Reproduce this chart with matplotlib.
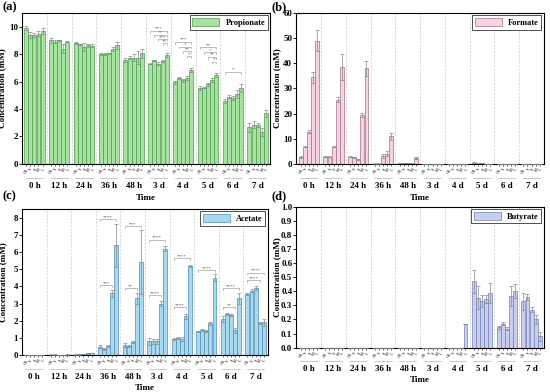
import numpy as np
import matplotlib
matplotlib.use('Agg')
import matplotlib.pyplot as plt
from matplotlib.transforms import blended_transform_factory

plt.rcParams['font.family'] = ['Liberation Serif', 'DejaVu Serif']
plt.rcParams['font.weight'] = 'bold'
plt.rcParams['axes.labelweight'] = 'bold'

# Données
groups = ['0 h', '12 h', '24 h', '36 h', '48 h', '3 d', '4 d', '5 d', '6 d', '7 d']
treatments = ['CK', 'Y', 'S', 'M', 'L']

propionate = [
    [9.9, 9.4, 9.4, 9.5, 9.7], [9.0, 8.9, 9.0, 8.4, 8.9], [8.8, 8.7, 8.5, 8.65, 8.6],
    [8.0, 8.0, 8.05, 8.35, 8.65], [7.55, 7.75, 7.75, 7.75, 8.05], [7.3, 7.55, 7.3, 7.5, 7.95],
    [5.95, 6.25, 6.1, 6.25, 6.85], [5.5, 5.55, 5.8, 6.1, 6.45], [4.55, 4.9, 4.8, 5.1, 5.55],
    [2.65, 2.85, 2.8, 2.3, 3.7]]
propionate_err = [
    [0.15, 0.2, 0.15, 0.15, 0.2], [0.2, 0.1, 0.05, 0.3, 0.05], [0.1, 0.05, 0.3, 0.1, 0.1],
    [0.05, 0.05, 0.05, 0.15, 0.25], [0.15, 0.1, 0.25, 0.5, 0.3], [0.05, 0.05, 0.1, 0.1, 0.15],
    [0.1, 0.1, 0.1, 0.15, 0.15], [0.15, 0.05, 0.1, 0.15, 0.15], [0.15, 0.1, 0.15, 0.3, 0.3],
    [0.35, 0.25, 0.15, 0.3, 0.25]]

formate = [
    [2.8, 6.9, 12.8, 34.4, 49.0], [2.9, 2.9, 6.9, 25.5, 38.5], [2.9, 2.7, 1.9, 19.4, 38.0],
    [0.1, 0.1, 3.2, 4.0, 10.9], [0.4, 0.4, 0.4, 0.4, 2.3], [0.05, 0.05, 0.05, 0.05, 0.1],
    [0.1, 0.05, 0.05, 0.05, 0.05], [0.5, 0.2, 0.2, 0.05, 0.05], [0.05, 0.05, 0.05, 0.05, 0.05],
    [0.1, 0.05, 0.1, 0.1, 0.1]]
formate_err = [
    [0.3, 0.3, 0.5, 2.2, 4.2], [0.2, 0.3, 0.3, 1.0, 5.2], [0.2, 0.2, 0.2, 0.8, 3.0],
    [0.05, 0.05, 0.8, 1.0, 1.3], [0.1, 0.1, 0.1, 0.1, 0.5], [0.02] * 5,
    [0.02] * 5, [0.1, 0.05, 0.05, 0.02, 0.02], [0.02] * 5, [0.02] * 5]

acetate = [
    [0.02, 0.02, 0.02, 0.02, 0.02], [0.03, 0.03, 0.02, 0.02, 0.03], [0.03, 0.04, 0.06, 0.1, 0.12],
    [0.5, 0.35, 0.55, 3.6, 6.4], [0.6, 0.55, 0.75, 3.3, 5.4], [0.8, 0.8, 0.8, 3.0, 6.2],
    [0.95, 1.0, 0.95, 2.25, 5.2], [1.38, 1.48, 1.42, 1.85, 4.5], [2.1, 2.4, 2.35, 1.45, 3.3],
    [3.55, 3.75, 3.9, 1.85, 1.9]]
acetate_err = [
    [0.01] * 5, [0.01] * 5, [0.01] * 5,
    [0.1, 0.05, 0.05, 0.2, 1.25], [0.1, 0.05, 0.05, 0.3, 1.85], [0.2, 0.15, 0.15, 0.15, 0.15],
    [0.05, 0.05, 0.1, 0.15, 0.05], [0.05, 0.05, 0.05, 0.1, 0.2], [0.2, 0.05, 0.05, 0.15, 0.3],
    [0.05, 0.1, 0.1, 0.05, 0.2]]

butyrate = [
    [0] * 5, [0] * 5, [0] * 5, [0] * 5, [0] * 5, [0] * 5,
    [0, 0, 0, 0, 0.17], [0.47, 0.355, 0.33, 0.345, 0.385], [0.145, 0.17, 0.135, 0.365, 0.40],
    [0.33, 0.36, 0.27, 0.20, 0.08]]
butyrate_err = [
    [0] * 5, [0] * 5, [0] * 5, [0] * 5, [0] * 5, [0] * 5,
    [0] * 5, [0.08, 0.08, 0.04, 0.03, 0.07], [0.01, 0.01, 0.01, 0.07, 0.05],
    [0.06, 0.02, 0.02, 0.03, 0.03]]

# Crochets de significativité : (groupe, barre1, barre2, y, texte)
sig_a = [(5, 0, 4, 9.7, '***'), (5, 1, 4, 9.4, '**'), (5, 2, 4, 9.1, '***'), (5, 3, 4, 8.8, '**'),
         (6, 0, 4, 8.9, '***'), (6, 1, 4, 8.55, '*'), (6, 2, 4, 8.2, '**'), (6, 3, 4, 7.85, '*'),
         (7, 0, 4, 8.5, '**'), (7, 1, 4, 8.15, '*'), (7, 2, 4, 7.8, '**'), (7, 3, 4, 7.45, '*'),
         (8, 0, 4, 6.7, '*')]
sig_c = [(3, 0, 4, 7.9, '****'), (3, 0, 3, 4.05, '***'),
         (4, 0, 4, 7.5, '***'), (4, 0, 3, 3.9, '**'),
         (5, 0, 4, 6.7, '****'), (5, 0, 3, 3.5, '****'),
         (6, 0, 4, 5.65, '****'), (6, 0, 3, 2.8, '****'),
         (7, 0, 4, 4.95, '****'),
         (8, 0, 4, 3.9, '****'), (8, 0, 3, 2.8, '**'),
         (9, 0, 4, 4.8, '****'), (9, 0, 3, 4.35, '****')]

step = 0.165
w = 0.16


def draw_panel(ax, vals, errs, face, edge, label, ylim, yticks, yfmt, sig=None):
    vals = np.array(vals)
    errs = np.array(errs)
    xs = []
    for i in range(len(groups)):
        x = i + (np.arange(5) - 2) * step
        ax.bar(x, vals[i], width=w, color=face, edgecolor=edge, linewidth=0.5,
               label=label if i == 0 else None, zorder=2)
        ax.errorbar(x, vals[i], yerr=errs[i], fmt='none', ecolor='#8a8a8a',
                    elinewidth=0.5, capsize=1.2, capthick=0.5, zorder=3)
        xs.extend(x)
    for i in range(len(groups) - 1):
        ax.axvline(i + 0.5, color='#c8c8c8', lw=0.5, ls=(0, (3, 2)), zorder=1)
    ax.set_xlim(-0.5, len(groups) - 0.5)
    ax.set_ylim(*ylim)
    ax.set_yticks(yticks)
    ax.set_yticklabels([yfmt.format(t) for t in yticks], fontsize=6.5)
    ax.set_xticks(xs)
    ax.set_xticklabels(treatments * len(groups), fontsize=3, rotation=60,
                       ha='right', rotation_mode='anchor', fontweight='normal')
    ax.tick_params(axis='x', length=1.5, width=0.4, pad=1)
    ax.tick_params(axis='y', length=2, width=0.6, pad=1)
    for s in ax.spines.values():
        s.set_linewidth(0.8)
    tr = blended_transform_factory(ax.transData, ax.transAxes)
    for i, g in enumerate(groups):
        ax.plot([i - 0.35, i + 0.35], [-0.095, -0.095], color='#b0b0b0', lw=0.5,
                transform=tr, clip_on=False)
        ax.text(i, -0.12, g, transform=tr, ha='center', va='top', fontsize=6.5)
    ax.text(0.5, -0.2, 'Time', transform=ax.transAxes, ha='center', va='top', fontsize=6.5)
    ax.set_ylabel('Concentration (mM)', fontsize=6.5)
    ax.yaxis.set_label_coords(-0.062, 0.5)
    leg = ax.legend(loc='upper right', fontsize=6, frameon=True, fancybox=False,
                    edgecolor='black', handlelength=3.2, handleheight=1.2,
                    borderpad=0.3, borderaxespad=0.3)
    leg.get_frame().set_linewidth(0.6)
    if sig:
        h = (ylim[1] - ylim[0]) * 0.012
        for g, b1, b2, y, t in sig:
            x1 = g + (b1 - 2) * step
            x2 = g + (b2 - 2) * step
            ax.plot([x1, x1, x2, x2], [y - h, y, y, y - h], color='#8a8a8a', lw=0.4, zorder=4)
            ax.text((x1 + x2) / 2, y, t, ha='center', va='bottom', fontsize=3.5,
                    fontweight='normal', color='#555555')


fig = plt.figure(figsize=(5.5, 3.92), dpi=100)
ax_a = fig.add_axes([0.040, 0.582, 0.451, 0.385])
ax_b = fig.add_axes([0.539, 0.582, 0.450, 0.385])
ax_c = fig.add_axes([0.040, 0.094, 0.447, 0.373])
ax_d = fig.add_axes([0.539, 0.113, 0.450, 0.360])

draw_panel(ax_a, propionate, propionate_err, '#a6e3a0', '#4f9a4f', 'Propionate',
           (0, 11), [0, 2, 4, 6, 8, 10], '{:g}', sig_a)
draw_panel(ax_b, formate, formate_err, '#f5d3e3', '#a0708a', 'Formate',
           (0, 60), [0, 10, 20, 30, 40, 50, 60], '{:g}')
draw_panel(ax_c, acetate, acetate_err, '#a9d9f0', '#4f8cb0', 'Acetate',
           (0, 8.5), [0, 1, 2, 3, 4, 5, 6, 7, 8], '{:g}', sig_c)
draw_panel(ax_d, butyrate, butyrate_err, '#c9cdf0', '#7482b4', 'Butyrate',
           (0, 1.0), [round(0.1 * k, 1) for k in range(11)], '{:.1f}')

# Étiquettes des panneaux
fig.text(0.004, 0.998, '(a)', ha='left', va='top', fontsize=9)
fig.text(0.493, 0.998, '(b)', ha='left', va='top', fontsize=9)
fig.text(0.004, 0.515, '(c)', ha='left', va='top', fontsize=9)
fig.text(0.493, 0.515, '(d)', ha='left', va='top', fontsize=9)

fig.savefig('out.png', dpi=100)
